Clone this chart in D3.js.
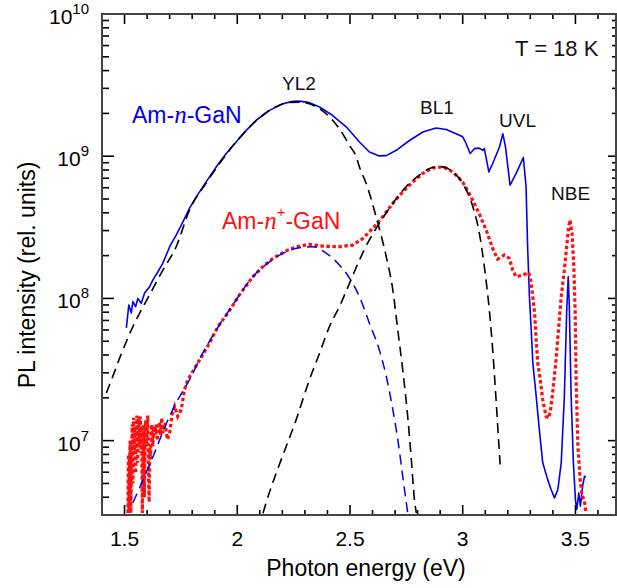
<!DOCTYPE html>
<html><head><meta charset="utf-8">
<script src="https://cdn.jsdelivr.net/npm/d3@7"></script>
<style>body{margin:0;background:#fff}svg{display:block}text{font-family:"Liberation Sans",Arial,sans-serif}</style>
</head><body><svg id="c" width="617" height="588"></svg>
<script>
// ---- data (photon energy in eV, PL intensity in rel. units) ----
const nE = [1.508,1.519,1.530,1.537,1.549,1.559,1.574,1.589,1.611,1.626,1.648,1.670,1.700,1.729,1.759,1.788,1.818,1.862,1.907,1.951,1.995,2.040,2.084,2.143,2.202,2.246,2.276,2.320,2.365,2.422,2.483,2.542,2.586,2.630,2.661,2.705,2.764,2.823,2.882,2.927,2.971,3.000,3.015,3.033,3.052,3.074,3.089,3.096,3.116,3.133,3.163,3.178,3.190,3.210,3.237,3.269,3.281,3.288,3.296,3.304,3.311,3.326,3.340,3.355,3.377,3.392,3.407,3.422,3.437,3.451,3.461,3.468,3.473,3.481,3.491,3.500,3.506,3.515,3.522,3.532,3.540,3.547];
const nI = [6.2e7,9.0e7,7.9e7,9.5e7,8.75e7,1.0e8,9.25e7,1.09e8,1.21e8,1.35e8,1.54e8,1.77e8,2.31e8,2.79e8,3.46e8,4.3e8,5.18e8,6.6e8,8.42e8,1.045e9,1.26e9,1.52e9,1.79e9,2.1e9,2.34e9,2.43e9,2.44e9,2.38e9,2.22e9,1.94e9,1.61e9,1.26e9,1.07e9,1.005e9,1.01e9,1.1e9,1.29e9,1.48e9,1.58e9,1.54e9,1.44e9,1.37e9,1.23e9,1.045e9,1.13e9,1.14e9,1.1e9,1.13e9,7.76e8,8.89e8,1.16e9,1.44e9,1.16e9,6.25e8,7.57e8,9.8e8,6.1e8,2.31e8,1.03e8,6.0e7,3.52e7,2.05e7,1.19e7,6.98e6,5.32e6,4.53e6,3.96e6,4.53e6,6.98e6,2.05e7,7.87e7,1.42e8,8.75e7,2.05e7,6.98e6,3.85e6,3.28e6,4.3e6,3.46e6,4.78e6,5.61e6,5.56e6];

const npE = [1.515,1.517,1.519,1.522,1.525,1.528,1.531,1.534,1.537,1.540,1.543,1.546,1.549,1.552,1.555,1.558,1.561,1.564,1.567,1.570,1.573,1.576,1.579,1.582,1.585,1.588,1.591,1.594,1.597,1.600,1.603,1.606,1.609,1.612,1.615,1.618,1.621,1.625,1.630,1.635,1.640,1.645,1.650,1.655,1.660,1.665,1.670,1.680,1.690,1.700,1.710,1.722,1.736,1.751,1.766,1.781,1.833,1.877,1.914,1.958,2.010,2.069,2.113,2.158,2.217,2.261,2.320,2.379,2.453,2.512,2.557,2.601,2.645,2.690,2.734,2.779,2.823,2.867,2.912,2.956,3.000,3.037,3.074,3.104,3.133,3.155,3.185,3.207,3.222,3.237,3.266,3.293,3.304,3.319,3.326,3.333,3.344,3.355,3.370,3.382,3.392,3.402,3.414,3.426,3.437,3.451,3.461,3.470,3.476,3.485,3.493,3.499,3.503,3.511,3.521,3.530,3.539,3.547];
const npI = [3.1e6,8.0e6,3.1e6,6.8e6,1.0e7,3.1e6,7.4e6,1.3e7,5.0e6,1.45e7,8.0e6,1.26e7,5.9e6,1.1e7,1.5e7,7.0e6,1.07e7,1.48e7,9.0e6,1.48e7,8.2e6,1.2e7,3.1e6,9.0e6,1.3e7,4.0e6,1.0e7,1.4e7,9.1e6,1.26e7,1.5e7,6.0e6,3.7e6,9.0e6,7.4e6,1.13e7,1.3e7,9.1e6,1.26e7,1.1e7,1.3e7,1.0e7,1.2e7,1.35e7,1.1e7,1.45e7,1.13e7,1.33e7,1.02e7,1.13e7,1.5e7,1.74e7,1.48e7,1.65e7,2.28e7,2.68e7,3.7e7,4.85e7,6.34e7,7.87e7,1.06e8,1.42e8,1.67e8,1.91e8,2.16e8,2.31e8,2.4e8,2.33e8,2.31e8,2.37e8,2.64e8,3.11e8,3.75e8,4.66e8,5.61e8,6.6e8,7.57e8,8.28e8,8.42e8,7.76e8,6.6e8,5.18e8,3.92e8,3.03e8,2.25e8,1.89e8,2.02e8,1.91e8,1.58e8,1.42e8,1.46e8,1.52e8,1.28e8,7.87e7,5.12e7,3.51e7,2.68e7,1.94e7,1.48e7,1.44e7,1.74e7,2.4e7,3.7e7,6.34e7,1.03e8,1.58e8,2.31e8,3.19e8,3.56e8,2.87e8,1.67e8,7.87e7,2.68e7,9.1e6,5.32e6,4.07e6,3.85e6,3.1e6];

const yl2nE = [1.419,1.448,1.478,1.508,1.537,1.567,1.611,1.670,1.729,1.788,1.862,1.951,2.040,2.143,2.232,2.276,2.365,2.409,2.453,2.498,2.528,2.542,2.572,2.616,2.661,2.690,2.712,2.734,2.756,2.771,2.786,2.794];
const yl2nI = [2.16e7,2.83e7,3.8e7,4.97e7,6.34e7,7.87e7,1.06e8,1.58e8,2.31e8,4.18e8,6.47e8,1.03e9,1.52e9,2.1e9,2.39e9,2.4e9,2.16e9,1.89e9,1.56e9,1.19e9,9.9e8,8.4e8,6.43e8,3.75e8,1.96e8,1.15e8,6.0e7,3.15e7,1.48e7,7.76e6,3.85e6,3.11e6];

const yl2npE = [1.537,1.589,1.633,1.677,1.729,1.788,1.847,1.907,1.980,2.069,2.143,2.217,2.276,2.335,2.394,2.453,2.498,2.542,2.586,2.630,2.661,2.690,2.712,2.734,2.756];
const yl2npI = [3.66e6,5.61e6,8.2e6,1.23e7,1.84e7,2.68e7,4.12e7,6.0e7,9.0e7,1.42e8,1.81e8,2.13e8,2.27e8,2.31e8,2.08e8,1.72e8,1.39e8,1.03e8,6.7e7,4.35e7,2.83e7,1.65e7,1.02e7,5.61e6,3.11e6];

const bl1E = [2.114,2.128,2.173,2.217,2.261,2.320,2.365,2.409,2.453,2.498,2.542,2.586,2.630,2.690,2.749,2.808,2.867,2.912,2.956,3.000,3.045,3.074,3.096,3.118,3.133,3.148,3.160,3.166];
const bl1I = [3.08e6,3.66e6,5.93e6,9.1e6,1.4e7,2.68e7,4.12e7,6.34e7,8.75e7,1.28e8,1.86e8,2.58e8,3.37e8,4.66e8,6.1e8,7.36e8,8.34e8,8.42e8,7.76e8,6.43e8,4.41e8,2.87e8,1.67e8,8.3e7,4.35e7,1.94e7,9.6e6,6.8e6];

const xTicks = [1.5, 2, 2.5, 3, 3.5];
const yExps = [7, 8, 9, 10];

// ---- layout ----
const L = 102, R = 616, T = 14, B = 515;
const svg = d3.select("#c");
const x = d3.scaleLinear().domain([1.4, 3.68]).range([L, R]);
const y = d3.scaleLog().domain([3e6, 1e10]).range([B, T]);

svg.append("clipPath").attr("id","clip").append("rect")
  .attr("x", L).attr("y", T).attr("width", R - L).attr("height", B - T);
const g = svg.append("g").attr("clip-path","url(#clip)");

const zip = (E, I) => E.map((e, i) => [e, I[i]]);
const lin = d3.line().x(d => x(d[0])).y(d => y(d[1]));
const smooth = d3.line().x(d => x(d[0])).y(d => y(d[1])).curve(d3.curveMonotoneX);

g.append("path").attr("d", lin(zip(nE, nI))).attr("fill","none")
  .attr("stroke","#0000ee").attr("stroke-width",1.6).attr("stroke-linejoin","round");
g.append("path").attr("d", lin(zip(npE, npI))).attr("fill","none")
  .attr("stroke","#ff1010").attr("stroke-width",3.2).attr("stroke-dasharray","3.5,2.5");
g.append("path").attr("d", smooth(zip(yl2npE, yl2npI))).attr("fill","none")
  .attr("stroke","#0000ee").attr("stroke-width",1.5).attr("stroke-dasharray","10,6");
g.append("path").attr("d", smooth(zip(yl2nE, yl2nI))).attr("fill","none")
  .attr("stroke","#000").attr("stroke-width",1.6).attr("stroke-dasharray","10,6");
g.append("path").attr("d", smooth(zip(bl1E, bl1I))).attr("fill","none")
  .attr("stroke","#000").attr("stroke-width",1.6).attr("stroke-dasharray","10,6");

// ---- axes ----
const minorX = d3.range(14, 37).map(v => v / 10);
const ax = svg.append("g");
const tick = (x1, y1, x2, y2) => ax.append("line").attr("x1",x1).attr("y1",y1).attr("x2",x2).attr("y2",y2)
  .attr("stroke","#000").attr("stroke-width",1.6);
minorX.forEach(v => {
  const isMaj = xTicks.some(t => Math.abs(t - v) < 1e-6);
  const len = isMaj ? 10 : 5;
  tick(x(v), B, x(v), B - len);
  tick(x(v), T, x(v), T + len);
});
yExps.forEach(e => {
  for (let m = 1; m <= 9; m++) {
    const v = m * Math.pow(10, e - 1);
    if (v < 3e6 || v > 1e10) continue;
    const maj = m === 1;
    tick(L, y(v), L + (maj ? 12 : 7), y(v));
    tick(R, y(v), R - (maj ? 8 : 4), y(v));
  }
});
ax.append("rect").attr("x", L).attr("y", T).attr("width", R - L).attr("height", B - T)
  .attr("fill","none").attr("stroke","#444").attr("stroke-width",2);

xTicks.forEach(t => ax.append("text").attr("x", x(t)).attr("y", 546).attr("text-anchor","middle")
  .attr("font-size",21).text(t));
yExps.forEach(e => {
  const t = ax.append("text").attr("x", 89).attr("y", y(Math.pow(10, e)) + 10).attr("text-anchor","end").attr("font-size",21);
  t.append("tspan").text("10");
  t.append("tspan").attr("dy",-10).attr("font-size",15).text(e);
});
ax.append("text").attr("x", 366).attr("y", 576).attr("text-anchor","middle").attr("font-size",23).text("Photon energy (eV)");
ax.append("text").attr("transform","translate(35,275) rotate(-90)").attr("text-anchor","middle").attr("font-size",23).text("PL intensity (rel. units)");

// ---- annotations ----
const ann = (tx, ty, s, size) => svg.append("text").attr("x", tx).attr("y", ty).attr("font-size", size).attr("fill","#111").text(s);
ann(515, 56, "T = 18 K", 22);
ann(282, 90, "YL2", 19);
ann(420, 114, "BL1", 19);
ann(499, 127, "UVL", 19);
ann(551, 200, "NBE", 19);

const l1 = svg.append("text").attr("x",132).attr("y",123).attr("font-size",23).attr("fill","#0000ee");
l1.append("tspan").text("Am-");
l1.append("tspan").attr("font-family","Liberation Serif").attr("font-style","italic").attr("font-size",25).text("n");
l1.append("tspan").text("-GaN");
const l2 = svg.append("text").attr("x",222).attr("y",229).attr("font-size",23).attr("fill","#ff1010");
l2.append("tspan").text("Am-");
l2.append("tspan").attr("font-family","Liberation Serif").attr("font-style","italic").attr("font-size",25).text("n");
l2.append("tspan").attr("dy",-12).attr("font-size",15).text("+");
l2.append("tspan").attr("dy",12).text("-GaN");
</script></body></html>
